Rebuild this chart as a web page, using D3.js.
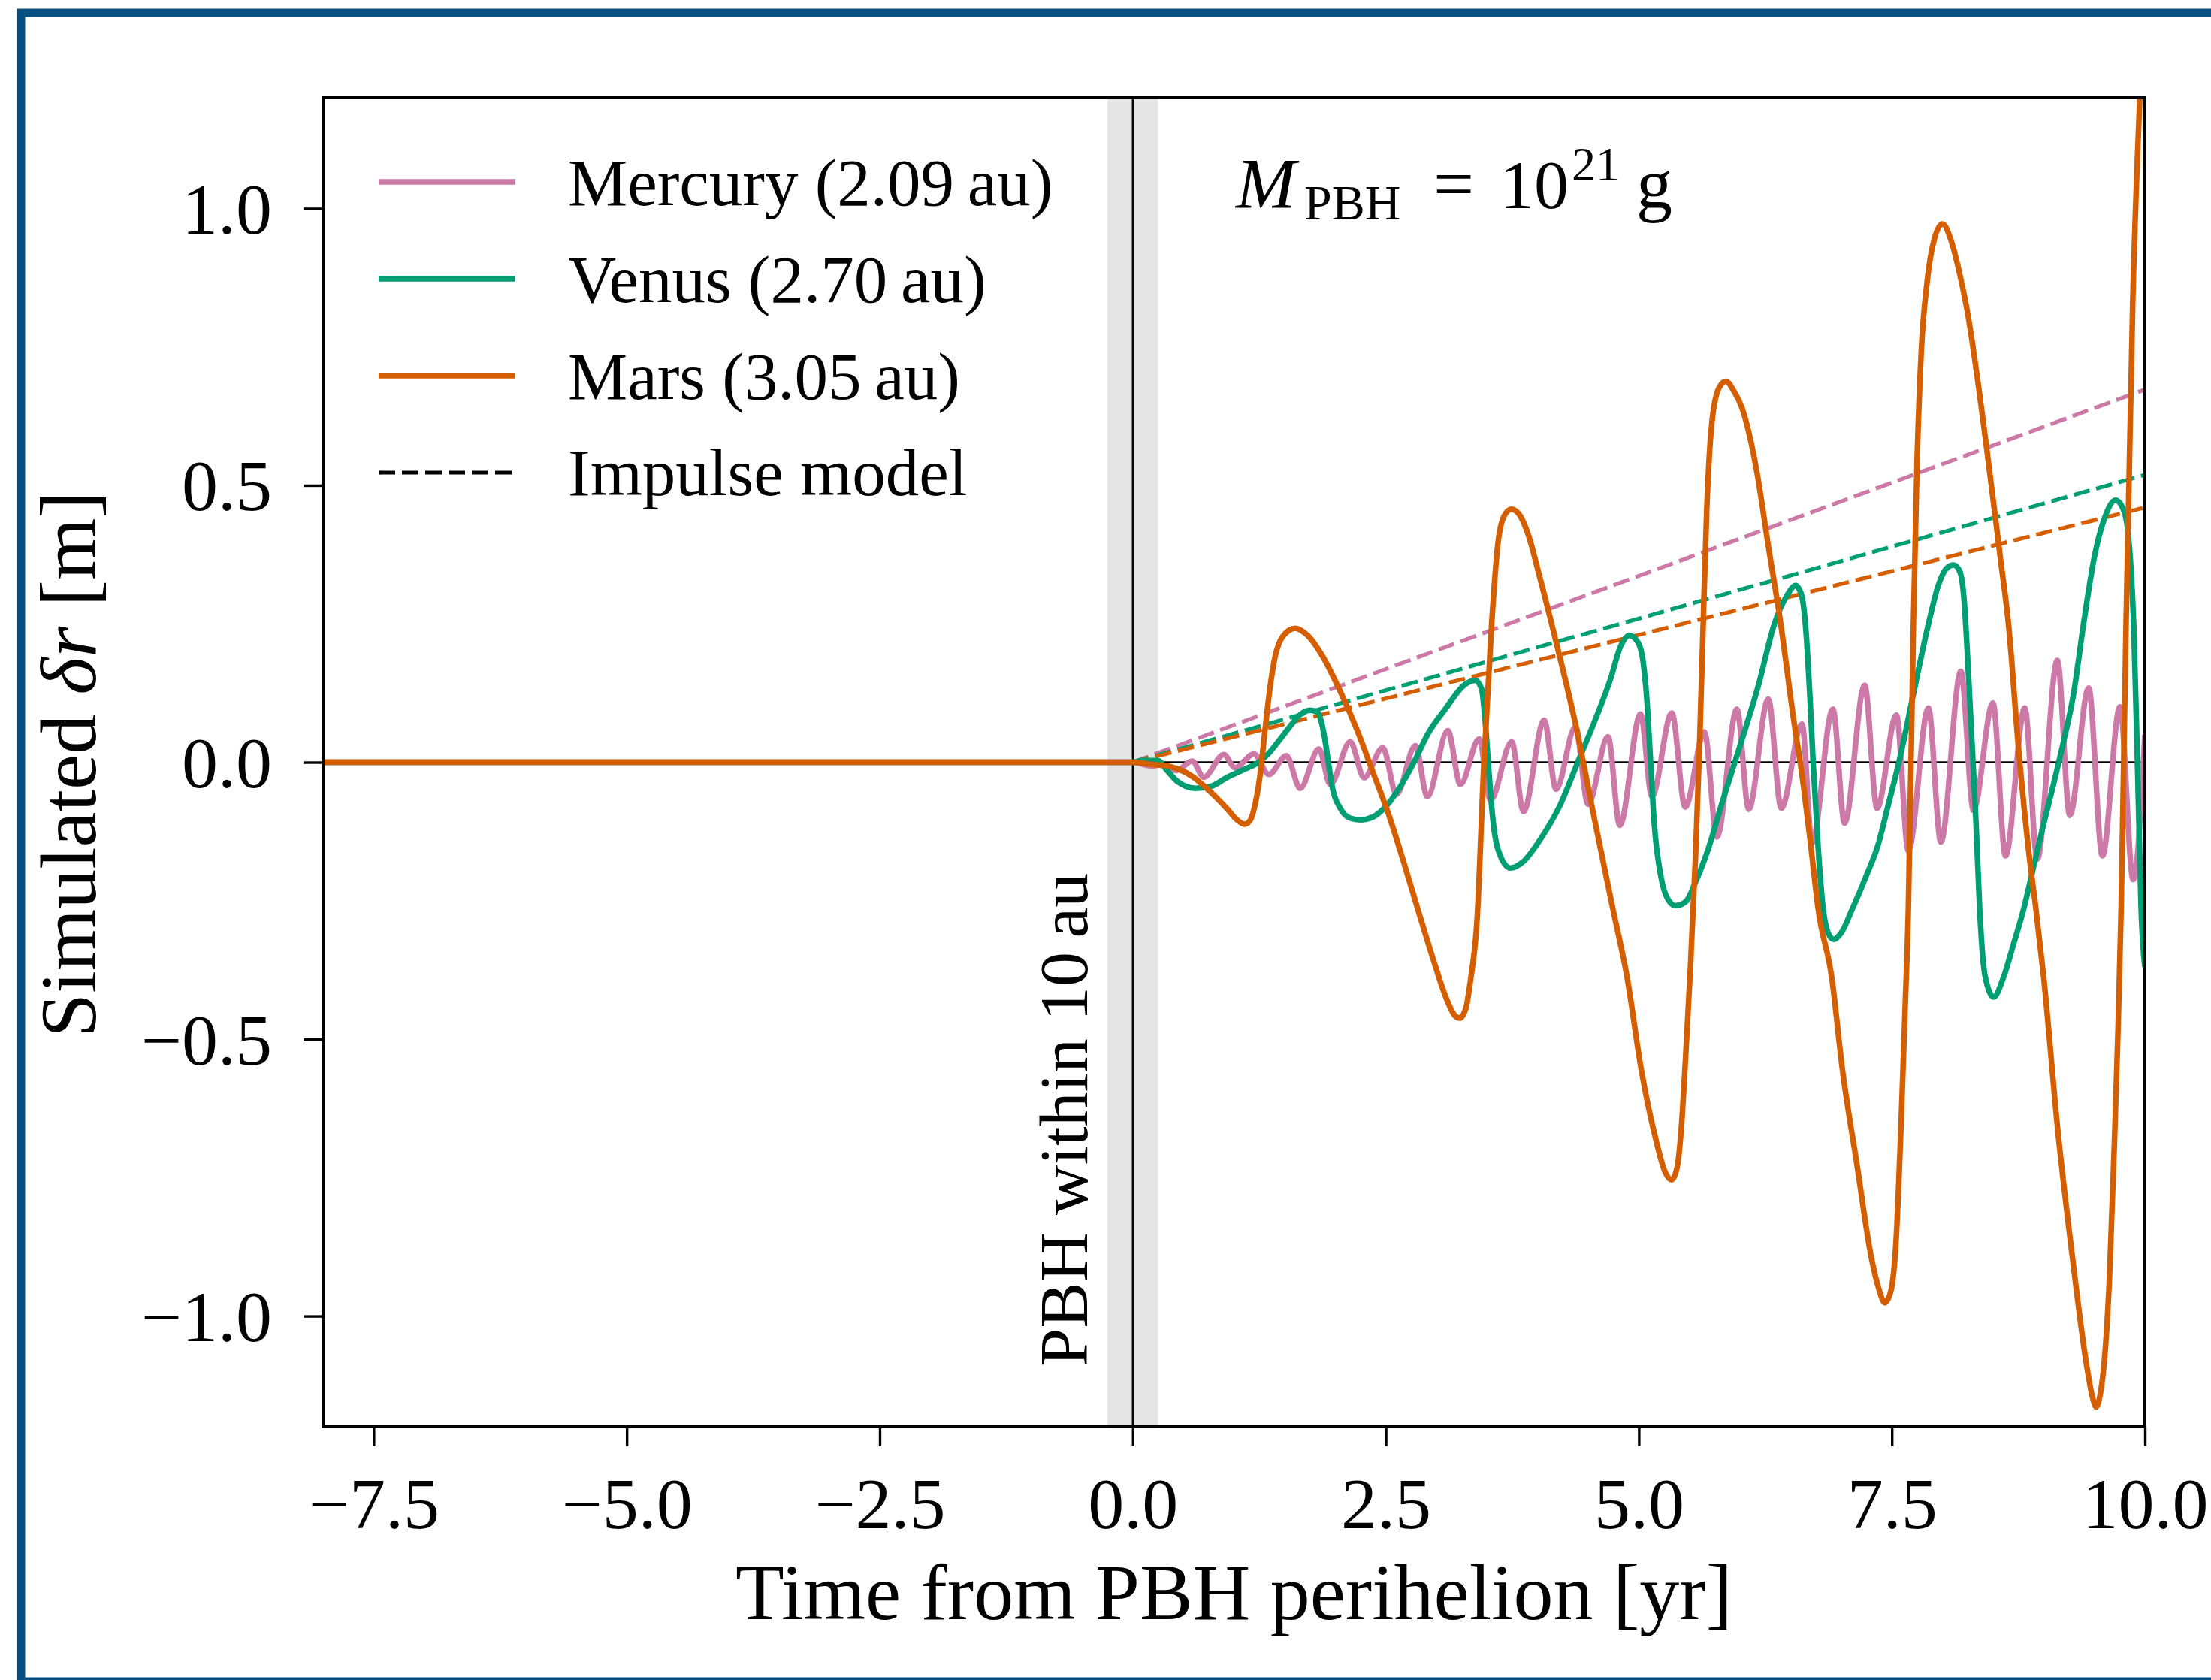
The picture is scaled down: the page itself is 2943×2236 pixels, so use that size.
<!DOCTYPE html>
<html><head><meta charset="utf-8">
<script src="https://cdn.jsdelivr.net/npm/d3@7"></script>
<style>
html,body{margin:0;padding:0;background:#fff;}
svg{display:block;}
text{font-family:"Liberation Serif","DejaVu Serif",serif;fill:#000;}
</style></head><body>
<svg id="chart" width="2943" height="2236"></svg>
<script>
// ---------------- data ----------------
const seriesLabels = ["Mercury (2.09\u2009au)", "Venus (2.70\u2009au)", "Mars (3.05\u2009au)"];
const impulseLabel = "Impulse model";
const xTicks = [-7.5, -5, -2.5, 0, 2.5, 5, 7.5, 10];
const yTicks = [-1, -0.5, 0, 0.5, 1];
const pbhWindow = [-0.25, 0.25];

// [time (yr), delta r (m)]
const mercury = [[-8,0],[0,0],[0.195,-0.007],[0.272,-0.004],[0.430,-0.015],[0.586,0.002],[0.702,-0.027],[0.900,0.014],[1.011,-0.010],[1.197,0.015],[1.345,-0.022],[1.518,0.012],[1.654,-0.047],[1.840,0.024],[1.951,-0.040],[2.149,0.037],[2.285,-0.028],[2.470,0.026],[2.606,-0.058],[2.792,0.030],[2.910,-0.062],[3.113,0.057],[3.237,-0.040],[3.422,0.042],[3.534,-0.069],[3.744,0.037],[3.860,-0.089],[4.065,0.076],[4.182,-0.049],[4.374,0.064],[4.498,-0.076],[4.696,0.046],[4.812,-0.114],[5.017,0.087],[5.129,-0.062],[5.326,0.089],[5.458,-0.081],[5.648,0.055],[5.772,-0.135],[5.969,0.096],[6.086,-0.085],[6.279,0.114],[6.407,-0.083],[6.612,0.069],[6.711,-0.146],[6.917,0.096],[7.033,-0.110],[7.231,0.139],[7.354,-0.083],[7.545,0.085],[7.663,-0.160],[7.861,0.098],[7.984,-0.144],[8.182,0.164],[8.306,-0.087],[8.498,0.107],[8.623,-0.169],[8.813,0.098],[8.937,-0.175],[9.135,0.184],[9.258,-0.096],[9.444,0.134],[9.580,-0.169],[9.753,0.100],[9.884,-0.212],[10.0,0.05]];

const venus = [[-8,0],[0,0],[0.10,0.003],[0.25,0.003],[0.331,-0.013],[0.443,-0.035],[0.616,-0.047],[0.764,-0.044],[0.937,-0.027],[1.086,-0.014],[1.234,-0.001],[1.333,0.014],[1.432,0.036],[1.555,0.065],[1.654,0.086],[1.753,0.094],[1.827,0.090],[1.864,0.073],[1.902,0.037],[1.939,-0.008],[1.976,-0.049],[2.050,-0.083],[2.149,-0.101],[2.248,-0.104],[2.371,-0.099],[2.495,-0.081],[2.643,-0.044],[2.792,0.005],[2.915,0.051],[3.088,0.096],[3.286,0.141],[3.385,0.148],[3.447,0.132],[3.484,0.069],[3.521,-0.022],[3.558,-0.103],[3.608,-0.157],[3.731,-0.191],[3.855,-0.180],[4.028,-0.139],[4.226,-0.076],[4.399,0.001],[4.572,0.078],[4.720,0.150],[4.819,0.209],[4.906,0.229],[4.993,0.216],[5.042,0.182],[5.079,0.114],[5.116,0.001],[5.153,-0.112],[5.215,-0.203],[5.289,-0.248],[5.363,-0.259],[5.462,-0.252],[5.561,-0.216],[5.685,-0.157],[5.833,-0.067],[6.006,0.033],[6.179,0.137],[6.340,0.250],[6.460,0.300],[6.550,0.319],[6.610,0.300],[6.650,0.240],[6.690,0.120],[6.725,-0.010],[6.773,-0.157],[6.822,-0.266],[6.870,-0.308],[6.925,-0.320],[7.000,-0.308],[7.107,-0.266],[7.243,-0.207],[7.366,-0.148],[7.466,-0.076],[7.565,-0.004],[7.713,0.123],[7.862,0.250],[7.960,0.320],[8.040,0.350],[8.110,0.356],[8.170,0.345],[8.215,0.290],[8.245,0.200],[8.282,0.069],[8.332,-0.112],[8.368,-0.266],[8.420,-0.385],[8.506,-0.424],[8.600,-0.390],[8.700,-0.330],[8.801,-0.266],[8.900,-0.189],[8.999,-0.112],[9.097,-0.040],[9.196,0.037],[9.295,0.123],[9.394,0.250],[9.500,0.370],[9.600,0.440],[9.710,0.473],[9.790,0.455],[9.830,0.420],[9.862,0.350],[9.889,0.250],[9.926,0.001],[9.963,-0.266],[10.0,-0.370]];

const mars = [[-8,0],[0,0],[0.195,-0.004],[0.319,-0.006],[0.443,-0.012],[0.591,-0.026],[0.764,-0.053],[0.937,-0.085],[1.036,-0.105],[1.105,-0.112],[1.160,-0.105],[1.209,-0.076],[1.259,-0.022],[1.308,0.060],[1.358,0.137],[1.407,0.191],[1.481,0.227],[1.605,0.242],[1.728,0.229],[1.877,0.191],[2.050,0.128],[2.223,0.055],[2.371,-0.017],[2.520,-0.090],[2.668,-0.175],[2.816,-0.265],[2.967,-0.355],[3.095,-0.425],[3.180,-0.457],[3.230,-0.462],[3.290,-0.445],[3.340,-0.390],[3.400,-0.290],[3.470,0.000],[3.546,0.250],[3.606,0.392],[3.670,0.445],[3.740,0.457],[3.820,0.447],[3.900,0.415],[4.020,0.335],[4.152,0.240],[4.374,0.069],[4.572,-0.112],[4.745,-0.266],[4.884,-0.388],[5.026,-0.557],[5.168,-0.681],[5.260,-0.740],[5.323,-0.754],[5.380,-0.730],[5.420,-0.660],[5.460,-0.540],[5.510,-0.370],[5.560,-0.170],[5.600,0.030],[5.636,0.250],[5.670,0.450],[5.720,0.610],[5.790,0.675],[5.860,0.688],[5.940,0.670],[6.019,0.640],[6.161,0.530],[6.280,0.390],[6.402,0.250],[6.520,0.090],[6.625,-0.040],[6.699,-0.150],[6.773,-0.266],[6.906,-0.388],[7.013,-0.557],[7.155,-0.726],[7.297,-0.894],[7.370,-0.950],[7.430,-0.976],[7.490,-0.955],[7.540,-0.870],[7.590,-0.660],[7.630,-0.450],[7.663,-0.266],[7.713,0.250],[7.750,0.550],[7.790,0.740],[7.850,0.870],[7.920,0.945],[8.000,0.972],[8.080,0.945],[8.160,0.890],[8.240,0.820],[8.432,0.574],[8.574,0.366],[8.652,0.250],[8.752,0.024],[8.850,-0.157],[8.924,-0.266],[9.000,-0.388],[9.142,-0.669],[9.284,-0.894],[9.426,-1.091],[9.480,-1.145],[9.518,-1.164],[9.560,-1.140],[9.600,-1.080],[9.650,-0.930],[9.700,-0.680],[9.735,-0.480],[9.765,-0.266],[9.814,0.250],[9.880,0.833],[9.950,1.200],[10.0,1.400]];

const impulseT = [0, 10];
const impulseMercury = [0, 0.673];
const impulseVenus = [0, 0.519];
const impulseMars = [0, 0.460];

// ---------------- layout & style ----------------
const W = 2943, H = 2236;
const L = 430, R = 2855, T = 130, B = 1899;
const colors = ["#CC79A7", "#009E73", "#D55E00"];
const lineW = 7.5;
const dashW = 5.2;
const dashPattern = "22,9";
const serif = '"Liberation Serif","DejaVu Serif",serif';

const svg = d3.select("#chart");
svg.append("rect").attr("width", W).attr("height", H).attr("fill", "#fff");

// page border (blue frame, right side lies outside the picture)
svg.append("rect").attr("x", 28).attr("y", 17).attr("width", 3100).attr("height", 2221)
  .attr("fill", "none").attr("stroke", "#064f80").attr("stroke-width", 11);

const x = d3.scaleLinear().domain([-8, 10]).range([L, R]);
const y = d3.scaleLinear().domain([-1.2, 1.2]).range([B, T]);

svg.append("clipPath").attr("id", "plotclip").append("rect")
  .attr("x", L).attr("y", T).attr("width", R - L).attr("height", B - T);

const plot = svg.append("g").attr("clip-path", "url(#plotclip)");

// grey window where PBH is within 10 au
plot.append("rect").attr("x", x(pbhWindow[0])).attr("y", T)
  .attr("width", x(pbhWindow[1]) - x(pbhWindow[0])).attr("height", B - T)
  .attr("fill", "#e5e5e5");

// reference lines
plot.append("line").attr("x1", L).attr("x2", R).attr("y1", y(0)).attr("y2", y(0))
  .attr("stroke", "#000").attr("stroke-width", 2.6);
plot.append("line").attr("x1", x(0)).attr("x2", x(0)).attr("y1", T).attr("y2", B)
  .attr("stroke", "#000").attr("stroke-width", 2.4);

const line = d3.line().x(d => x(d[0])).y(d => y(d[1])).curve(d3.curveMonotoneX);

// impulse model dashed lines
[impulseMercury, impulseVenus, impulseMars].forEach((vals, i) => {
  plot.append("path").datum(d3.zip(impulseT, vals)).attr("d", line)
    .attr("fill", "none").attr("stroke", colors[i]).attr("stroke-width", dashW)
    .attr("stroke-dasharray", dashPattern);
});

// simulated series
[mercury, venus, mars].forEach((data, i) => {
  plot.append("path").datum(data).attr("d", line)
    .attr("fill", "none").attr("stroke", colors[i]).attr("stroke-width", lineW)
    .attr("stroke-linejoin", "round").attr("stroke-linecap", "butt");
});

// axes
const fmt = d3.format(".1f");
const xAxis = svg.append("g").attr("transform", `translate(0,${B})`)
  .call(d3.axisBottom(x).tickValues(xTicks).tickSize(26).tickFormat(fmt));
xAxis.select(".domain").remove();
xAxis.selectAll(".tick line").attr("stroke", "#000").attr("stroke-width", 3.4);
xAxis.selectAll(".tick text").attr("y", 135).attr("dy", 0)
  .style("font-size", "96px").style("font-family", serif);

const yAxis = svg.append("g").attr("transform", `translate(${L},0)`)
  .call(d3.axisLeft(y).tickValues(yTicks).tickSize(26).tickFormat(fmt));
yAxis.select(".domain").remove();
yAxis.selectAll(".tick line").attr("stroke", "#000").attr("stroke-width", 3.4);
yAxis.selectAll(".tick text").attr("x", -68).attr("dy", 0).attr("y", 33)
  .style("font-size", "96px").style("font-family", serif);

// spines
svg.append("rect").attr("x", L).attr("y", T).attr("width", R - L).attr("height", B - T)
  .attr("fill", "none").attr("stroke", "#000").attr("stroke-width", 4);

// axis labels
svg.append("text").attr("x", (L + R) / 2).attr("y", 2155).attr("text-anchor", "middle")
  .style("font-size", "106px").text("Time from PBH perihelion [yr]");

const yl = svg.append("text").attr("transform", `translate(127,${(T + B) / 2 + 3}) rotate(-90)`)
  .attr("text-anchor", "middle").style("font-size", "106px");
yl.append("tspan").text("Simulated ");
yl.append("tspan").style("font-style", "italic").text("\u03B4r");
yl.append("tspan").text(" [m]");

// legend
const legY = [242, 371, 500, 629];
const leg = svg.append("g");
seriesLabels.forEach((lab, i) => {
  leg.append("line").attr("x1", 504).attr("x2", 686).attr("y1", legY[i]).attr("y2", legY[i])
    .attr("stroke", colors[i]).attr("stroke-width", lineW);
  leg.append("text").attr("x", 756).attr("y", legY[i] + 31).style("font-size", "89px").text(lab);
});
leg.append("line").attr("x1", 504).attr("x2", 686).attr("y1", legY[3]).attr("y2", legY[3])
  .attr("stroke", "#000").attr("stroke-width", dashW).attr("stroke-dasharray", dashPattern);
leg.append("text").attr("x", 756).attr("y", legY[3] + 30).style("font-size", "89px").text(impulseLabel);

// mass annotation
const ann = svg.append("text");
ann.append("tspan").attr("x", 1645).attr("y", 277).style("font-size", "96px").style("font-style", "italic").text("M");
ann.append("tspan").attr("x", 1736).attr("y", 292).style("font-size", "66px").text("PBH");
ann.append("tspan").attr("x", 1908).attr("y", 277).style("font-size", "96px").text("=");
ann.append("tspan").attr("x", 1996).attr("y", 277).style("font-size", "92px").text("10");
ann.append("tspan").attr("x", 2092).attr("y", 240).style("font-size", "64px").text("21");
ann.append("tspan").attr("x", 2178).attr("y", 277).style("font-size", "96px").text("g");

// PBH window annotation
svg.append("text").attr("transform", `translate(1447,1819) rotate(-90)`)
  .attr("text-anchor", "start").style("font-size", "92px").text("PBH within 10\u2009au");
</script>
</body></html>
